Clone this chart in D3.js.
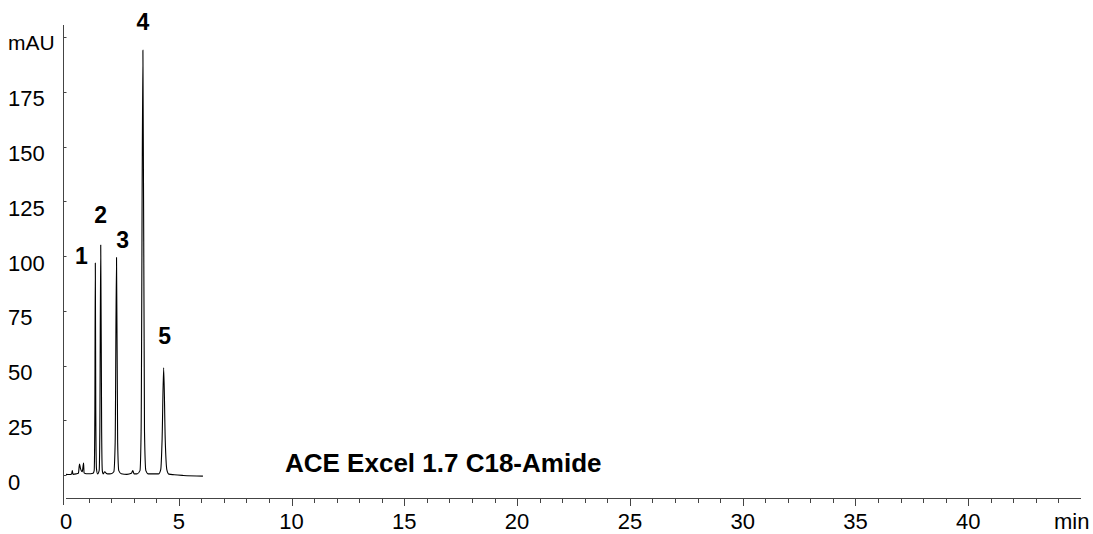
<!DOCTYPE html>
<html>
<head>
<meta charset="utf-8">
<script src="https://cdn.jsdelivr.net/npm/d3@7"></script>
<style>
  html, body { margin: 0; padding: 0; background: #fff; }
  svg { display: block; }
  text { font-family: "Liberation Sans", Arial, sans-serif; fill: #000; }
</style>
</head>
<body>
<svg id="chart" width="1093" height="534"></svg>
<script>
// ---- Data ----
const traceTime = [0.00, 0.15, 0.25, 0.28, 0.31, 0.45, 0.55, 0.60, 0.64, 0.72, 0.78, 0.80, 0.90, 1.10, 1.20, 1.25, 1.28, 1.30, 1.32, 1.35, 1.40, 1.47, 1.50, 1.54, 1.58, 1.61, 1.65, 1.72, 1.78, 1.85, 2.00, 2.12, 2.18, 2.24, 2.29, 2.34, 2.45, 2.70, 2.90, 2.96, 3.02, 3.15, 3.28, 3.33, 3.41, 3.48, 3.54, 3.65, 4.10, 4.20, 4.26, 4.33, 4.40, 4.47, 4.56, 4.80, 5.20, 6.07];
const traceMAU  = [0.3, 0.2, 0.5, 2.0, 0.3, 0.5, 0.8, 5.0, 3.0, 1.5, 5.5, 1.0, 0.6, 0.6, 0.8, 2.0, 30, 96.8, 30, 3.0, 0.5, 2.0, 20, 105, 20, 2.0, 0.5, 1.5, 0.8, 0.5, 0.6, 1.5, 15, 99.3, 15, 2.0, 0.6, 0.3, 0.8, 2.0, 0.5, 0.5, 2.0, 20, 194, 20, 2.0, 0.5, 0.5, 2.5, 16, 48.9, 16, 2.5, 0.4, 0.1, -0.2, -0.5];

const peakLabels = ["1", "2", "3", "4", "5"];
const peakTimes  = [1.30, 1.54, 2.24, 3.41, 4.33];
const peakHeights = [96.8, 105, 99.3, 194, 48.9];

const xTickValues = [0, 5, 10, 15, 20, 25, 30, 35, 40];
const xMinorTicks = d3.range(0, 45, 1);
const yTickValues = [0, 25, 50, 75, 100, 125, 150, 175];
const yUnitLabel = "mAU";
const xUnitLabel = "min";
const titleText = "ACE Excel 1.7 C18-Amide";

// ---- Layout ----
const svg = d3.select("#chart");
const x = d3.scaleLinear().domain([0, 45]).range([66, 1081]);
const y = d3.scaleLinear().domain([0, 200]).range([475, 37]);
const axisColor = "#444";
const xAxisY = 498;
const fontSize = 22;

// y axis line
svg.append("line")
  .attr("x1", 63.5).attr("x2", 63.5)
  .attr("y1", 25).attr("y2", 505)
  .attr("stroke", axisColor).attr("stroke-width", 1);

// y ticks (small marks to the right)
svg.selectAll(".ytick").data(yTickValues.concat([200])).enter().append("line")
  .attr("x1", 63.5).attr("x2", 66.5)
  .attr("y1", d => Math.round(y(d)) + 0.5).attr("y2", d => Math.round(y(d)) + 0.5)
  .attr("stroke", axisColor).attr("stroke-width", 1);

// y tick labels (left aligned)
svg.selectAll(".ylab").data(yTickValues).enter().append("text")
  .attr("x", 8)
  .attr("y", d => y(d) + 7)
  .attr("dy", "0.35em")
  .attr("font-size", fontSize)
  .text(d => d);

svg.append("text")
  .attr("x", 8).attr("y", y(200) + 6).attr("dy", "0.35em")
  .attr("font-size", 21)
  .text(yUnitLabel);

// x axis line
svg.append("line")
  .attr("x1", 66).attr("x2", 1081)
  .attr("y1", xAxisY + 0.5).attr("y2", xAxisY + 0.5)
  .attr("stroke", axisColor).attr("stroke-width", 1);

// x ticks
svg.selectAll(".xtick").data(xMinorTicks.filter(d => d > 0)).enter().append("line")
  .attr("x1", d => Math.round(x(d)) + 0.5).attr("x2", d => Math.round(x(d)) + 0.5)
  .attr("y1", xAxisY)
  .attr("y2", d => xAxisY + (d % 5 === 0 ? 8 : 5))
  .attr("stroke", axisColor).attr("stroke-width", 1);

svg.selectAll(".xlab").data(xTickValues).enter().append("text")
  .attr("x", d => x(d))
  .attr("y", 521)
  .attr("dy", "0.35em")
  .attr("text-anchor", "middle")
  .attr("font-size", fontSize)
  .text(d => d);

svg.append("text")
  .attr("x", 1054).attr("y", 521).attr("dy", "0.35em")
  .attr("font-size", fontSize)
  .text(xUnitLabel);

// trace
const trace = traceTime.map((t, i) => [t, traceMAU[i]]);
svg.append("path")
  .datum(trace)
  .attr("fill", "none")
  .attr("stroke", "#000")
  .attr("stroke-width", 1.1)
  .attr("stroke-linejoin", "round")
  .attr("d", d3.line().x(d => x(d[0])).y(d => y(d[1])).curve(d3.curveMonotoneX));

// peak labels
const labelOffsets = [[-14, -7], [0, -30], [6, -18], [0, -28], [1, -32]];
svg.selectAll(".plab").data(peakLabels).enter().append("text")
  .attr("x", (d, i) => x(peakTimes[i]) + labelOffsets[i][0])
  .attr("y", (d, i) => y(peakHeights[i]) + labelOffsets[i][1])
  .attr("dy", "0.35em")
  .attr("text-anchor", "middle")
  .attr("font-size", 23)
  .attr("font-weight", "bold")
  .text(d => d);

// title
svg.append("text")
  .attr("x", 285).attr("y", 472)
  .attr("font-size", 26)
  .attr("font-weight", "bold")
  .text(titleText);
</script>
</body>
</html>
